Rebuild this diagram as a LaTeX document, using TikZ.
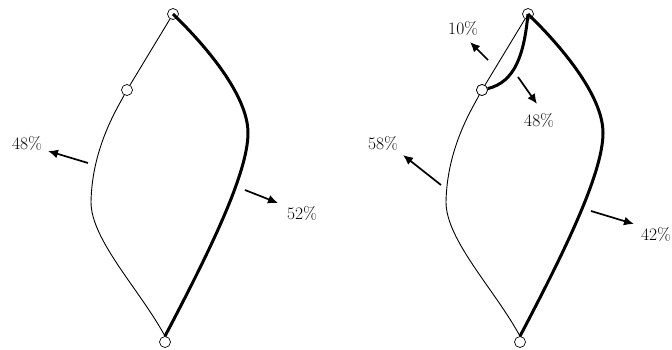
\documentclass[tikz,border=0pt]{standalone}
\usetikzlibrary{arrows.meta}
\begin{document}
\begin{tikzpicture}[x=1pt,y=-1pt,
  joint/.style={circle,draw,fill=white,line width=0.7pt,inner sep=0pt,minimum size=11pt},
  thinline/.style={line width=0.9pt},
  thickline/.style={line width=3pt},
  flow/.style={line width=1.7pt,-{Latex[length=10pt,width=9pt]}},
  pct/.style={font=\fontsize{17.5}{20}\selectfont,inner sep=0pt}]
\useasboundingbox (0,0) rectangle (672,349);
\foreach \sx/\nm in {0/L,355/R}{
  \begin{scope}[xshift=\sx pt]
    \node[joint] (\nm top) at (173,14) {};
    \node[joint] (\nm mid) at (127,90) {};
    \node[joint] (\nm bot) at (165,342) {};
    \coordinate (\nm lft) at (91,202);
    \coordinate (\nm rgt) at (248,133);
    \draw[thinline] (\nm top) -- (\nm mid);
    \draw[thinline] (\nm mid) .. controls (115,112) and (92,150) .. (\nm lft)
       .. controls (91,240) and (140,290) .. (\nm bot.north);
    \draw[thickline] (\nm top.center) .. controls (205,45) and (248,95) .. (\nm rgt)
       .. controls (248,175) and (205,260) .. (\nm bot.north);
  \end{scope}
}
% extra branch in the right figure
\draw[thickline] (Rtop.center) .. controls (524,55) and (515,82) .. (Rmid);
\node[joint] at (Rmid) {};
% left labels and arrows
\node[pct] (lA) at (27,143) {48\%};
\node[pct] (lB) at (302,213) {52\%};
\coordinate (lAs) at (88,163); \coordinate (lAe) at (48,151);
\coordinate (lBs) at (245,190); \coordinate (lBe) at (278,203);
\draw[flow] (lAs) -- (lAe);
\draw[flow] (lBs) -- (lBe);
% right labels and arrows
\node[pct] (rA) at (463,28) {10\%};
\node[pct] (rB) at (539,120) {48\%};
\node[pct] (rC) at (383,143) {58\%};
\node[pct,anchor=west] (rD) at (641,234) {42\%};
\coordinate (rAs) at (488,60); \coordinate (rAe) at (470,42);
\coordinate (rBs) at (518,77); \coordinate (rBe) at (537,104);
\coordinate (rCs) at (441,185); \coordinate (rCe) at (403,155);
\coordinate (rDs) at (591,211); \coordinate (rDe) at (634,224);
\draw[flow] (rAs) -- (rAe);
\draw[flow] (rBs) -- (rBe);
\draw[flow] (rCs) -- (rCe);
\draw[flow] (rDs) -- (rDe);
\end{tikzpicture}
\end{document}
